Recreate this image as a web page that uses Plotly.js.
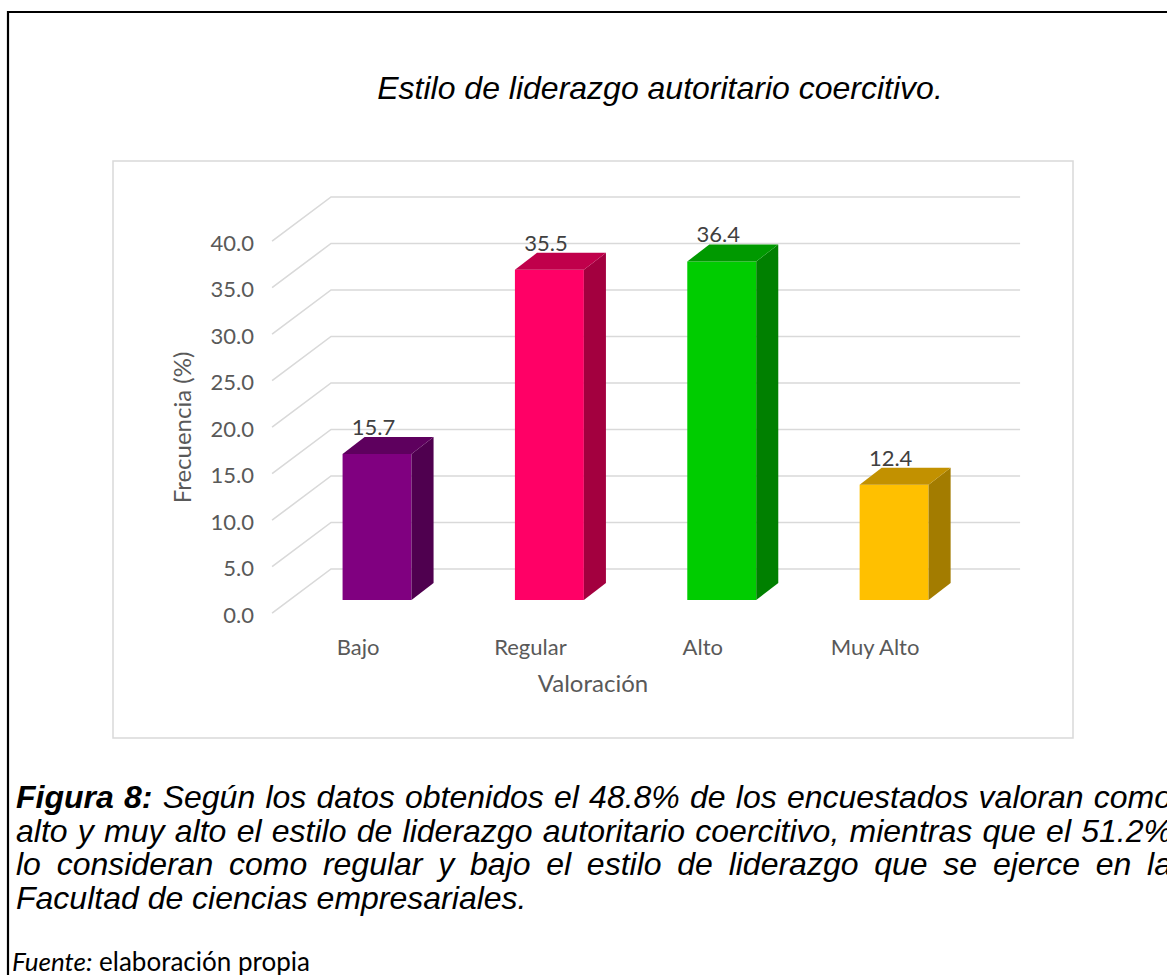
<!DOCTYPE html>
<html>
<head>
<meta charset="utf-8">
<script src="https://cdn.plot.ly/plotly-3.0.1.min.js"></script>
<style>html,body{margin:0;padding:0;background:#fff;}#chart{width:1167px;height:975px;}</style>
</head>
<body>
<div id="chart"></div>
<script>
// ---- data ----
const categories = ['Bajo', 'Regular', 'Alto', 'Muy Alto'];
const values = [15.7, 35.5, 36.4, 12.4];
const yTicks = [0, 5, 10, 15, 20, 25, 30, 35, 40];
const frontColors = ['#800080', '#ff0066', '#00cc00', '#ffc000'];
const sideColors = ['#4f004f', '#a3003f', '#008000', '#a37c00'];
const topColors = ['#5e005e', '#c0004b', '#009900', '#c29100'];
const chartTitle = 'Estilo de liderazgo autoritario coercitivo.';
const xTitle = 'Valoración';
const yTitle = 'Frecuencia (%)';
const captionLines = [
  '<b><i>Figura 8:</i></b><i> Según los datos obtenidos el 48.8% de los encuestados valoran como</i>',
  '<i>alto y muy alto el estilo de liderazgo autoritario coercitivo, mientras que el 51.2%</i>',
  '<i>lo consideran como regular y bajo el estilo de liderazgo que se ejerce en la</i>',
  '<i>Facultad de ciencias empresariales.</i>'
];
const sourceLine = '<i>Fuente:</i> elaboración propia';

// ---- 3D look (style constants) ----
const W = 1167, H = 975;
const BAR_W = 0.40, DEPTH_X = 0.128, DEPTH_Y = 1.83;
const GRID_FRONT_X = -0.609, GRID_BACK_X = -0.267, GRID_END_X = 3.731;
const GRID_FRONT_DY = 0.2, GRID_BACK_DY = 4.95;
const LABEL_DX = -0.11, DATA_LABEL_DY = 2.65;
const calib = 'Lato, Carlito, Calibri, sans-serif';
const arial = 'Liberation Sans, Arial, sans-serif';
const idx = categories.map((c, i) => i);

// gridlines (back wall + floor diagonal)
const gx = [], gy = [];
yTicks.forEach(v => {
  gx.push(GRID_FRONT_X, GRID_BACK_X, GRID_END_X, null);
  gy.push(v + GRID_FRONT_DY, v + GRID_BACK_DY, v + GRID_BACK_DY, null);
});
const traces = [{
  type: 'scatter', mode: 'lines', x: gx, y: gy, xaxis: 'x', yaxis: 'y',
  line: {color: '#d9d9d9', width: 1.6}, hoverinfo: 'skip', showlegend: false
}, {
  type: 'bar', x: idx, y: values, width: BAR_W, xaxis: 'x2', yaxis: 'y2',
  marker: {color: frontColors, line: {width: 0}}, hoverinfo: 'skip', showlegend: false
}];
values.forEach((v, i) => {
  const l = i - BAR_W / 2, r = i + BAR_W / 2;
  traces.push({
    type: 'scatter', mode: 'lines', fill: 'toself', fillcolor: sideColors[i],
    x: [r, r + DEPTH_X, r + DEPTH_X, r, r], y: [0, DEPTH_Y, v + DEPTH_Y, v, 0],
    xaxis: 'x2', yaxis: 'y2', line: {width: 0, color: sideColors[i]}, hoverinfo: 'skip', showlegend: false
  });
  traces.push({
    type: 'scatter', mode: 'lines', fill: 'toself', fillcolor: topColors[i],
    x: [l, l + DEPTH_X, r + DEPTH_X, r, l], y: [v, v + DEPTH_Y, v + DEPTH_Y, v, v],
    xaxis: 'x2', yaxis: 'y2', line: {width: 0, color: topColors[i]}, hoverinfo: 'skip', showlegend: false
  });
});
traces.push({
  type: 'scatter', mode: 'text', x: idx.map(i => i - 0.02), y: values.map(v => v + DATA_LABEL_DY),
  text: values.map(v => v.toFixed(1)), textposition: 'middle center', cliponaxis: false,
  textfont: {family: calib, size: 22, color: '#404040'}, xaxis: 'x2', yaxis: 'y2',
  hoverinfo: 'skip', showlegend: false
});

const xRange = [-1.532, 4.038];
const annotations = captionLines.map((t, k) => ({
  text: t, xref: 'paper', yref: 'paper', x: 14 / W, y: 1 - (797 + k * 33.7) / H,
  xanchor: 'left', yanchor: 'middle', align: 'left', showarrow: false,
  font: {family: arial, size: 32, color: '#000'}
}));
annotations.push({
  text: sourceLine, xref: 'paper', yref: 'paper', x: 10 / W, y: 1 - 961 / H,
  xanchor: 'left', yanchor: 'middle', align: 'left', showarrow: false,
  font: {family: calib, size: 26, color: '#000'}
});

const layout = {
  width: W, height: H, margin: {l: 0, r: 0, t: 0, b: 0},
  paper_bgcolor: '#fff', plot_bgcolor: 'rgba(0,0,0,0)', showlegend: false, hovermode: false,
  title: {text: '<i>' + chartTitle + '</i>', font: {family: arial, size: 32, color: '#000'},
          x: 660 / W, xanchor: 'center', xref: 'paper', y: 1 - 88 / H, yanchor: 'middle', yref: 'paper'},
  xaxis: {
    domain: [113 / W, 1073 / W], range: xRange, anchor: 'free', position: 1 - 632 / H,
    tickvals: idx.map(i => i + LABEL_DX), ticktext: categories, ticks: '',
    showgrid: false, zeroline: false, showline: false, fixedrange: true,
    tickfont: {family: calib, size: 22, color: '#595959'},
    title: {text: xTitle, font: {family: calib, size: 24, color: '#595959'}, standoff: 16}
  },
  yaxis: {
    domain: [1 - 694 / H, 1 - 161 / H], range: [(615 - 694) / 9.3, (615 - 161) / 9.3],
    anchor: 'free', position: 254 / W, tickvals: yTicks, tickformat: '.1f', ticks: '',
    showgrid: false, zeroline: false, showline: false, fixedrange: true,
    tickfont: {family: calib, size: 22, color: '#595959'},
    title: {text: yTitle, font: {family: calib, size: 24, color: '#595959'}, standoff: 11}
  },
  xaxis2: {overlaying: 'x', anchor: 'y2', range: xRange, visible: false, fixedrange: true},
  yaxis2: {overlaying: 'y', anchor: 'x2', range: [(600 - 694) / 9.3, (600 - 161) / 9.3], visible: false, fixedrange: true},
  shapes: [
    {type: 'rect', xref: 'paper', yref: 'paper', x0: 113 / W, x1: 1073 / W, y0: 1 - 738 / H, y1: 1 - 161 / H,
     line: {color: '#d9d9d9', width: 1.5}, layer: 'below'},
    {type: 'rect', xref: 'paper', yref: 'paper', x0: 8 / W, x1: 1.05, y0: -0.05, y1: 1 - 12 / H,
     line: {color: '#000', width: 2.2}, layer: 'above'}
  ],
  annotations: annotations
};

Plotly.newPlot('chart', traces, layout, {staticPlot: true, displayModeBar: false}).then(() => {
  // justify the first three caption lines (like the source paragraph)
  const target = 1172;
  const texts = document.querySelectorAll('#chart .annotation-text');
  for (let k = 0; k < 3 && k < texts.length; k++) {
    const el = texts[k];
    const bb = el.getBoundingClientRect();
    const n = (el.textContent.match(/ /g) || []).length;
    if (n > 0) {
      const extra = (target - bb.right) / n;
      if (extra > 0) el.style.wordSpacing = extra + 'px';
    }
  }
});
</script>
</body>
</html>
